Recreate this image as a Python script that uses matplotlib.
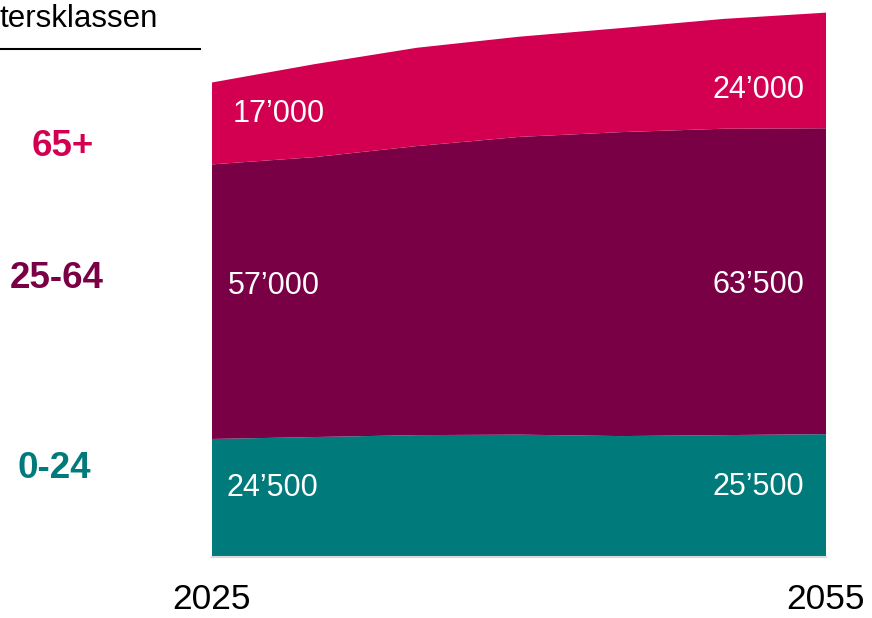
import numpy as np
import matplotlib
matplotlib.use("Agg")
import matplotlib.pyplot as plt

plt.rcParams['font.family'] = ['Liberation Sans', 'DejaVu Sans']

# data
years = [2025, 2030, 2035, 2040, 2045, 2050, 2055]
age_0_24 = [24500, 24900, 25300, 25400, 25100, 25300, 25500]
age_25_64 = [57000, 58100, 60000, 61800, 63100, 63600, 63500]
age_65p = [17000, 19300, 20400, 20800, 21600, 22800, 24000]
groups = ['0-24', '25-64', '65+']
colors = ['#007A7A', '#7A0046', '#D30052']
start_labels = ["24\u2019500", "57\u2019000", "17\u2019000"]
end_labels = ["25\u2019500", "63\u2019500", "24\u2019000"]

W, H = 872, 618
fig = plt.figure(figsize=(W / 100, H / 100), dpi=100)
ax = fig.add_axes([212 / W, 1 - 557 / H, 614 / W, 554 / H])

ax.stackplot(years, age_0_24, age_25_64, age_65p, colors=colors, linewidth=0)
ax.set_xlim(years[0], years[-1])
ax.set_ylim(0, 115000)
ax.axhline(0, color='#d9d9d9', lw=1.5, clip_on=False)
ax.axis('off')

# value labels inside the bands
start_y = [14950, 56900, 92600]
end_y = [15150, 57100, 97600]
start_dx = [15, 16, 21]
for lab, y, dx in zip(start_labels, start_y, start_dx):
    ax.annotate(lab, (years[0], y), xytext=(dx, -3), textcoords='offset pixels',
                color='white', fontsize=22, ha='left', va='center')
for lab, y in zip(end_labels, end_y):
    ax.annotate(lab, (years[-1], y), xytext=(-22, -3), textcoords='offset pixels',
                color='white', fontsize=22, ha='right', va='center')

# year labels
for yr in (years[0], years[-1]):
    ax.annotate(str(yr), (yr, 0), xytext=(0, -52), textcoords='offset pixels',
                fontsize=25.5, ha='center', va='baseline', annotation_clip=False)

# group names on the left
group_pos = [(54, 469), (57, 278), (63, 146)]
for name, c, (px, py) in zip(groups, colors, group_pos):
    fig.text(px / W, 1 - py / H, name, color=c, fontsize=26.5, fontweight='bold',
             ha='center', va='center')

# title (cut at the left edge in the source) with rule below
fig.text(0, 1 - 27 / H, 'tersklassen', fontsize=22.5, ha='left', va='baseline')
fig.add_artist(plt.Line2D([0, 200 / W], [1 - 49 / H, 1 - 49 / H], color='black', lw=1.5))

fig.savefig('out.png', dpi=100)
